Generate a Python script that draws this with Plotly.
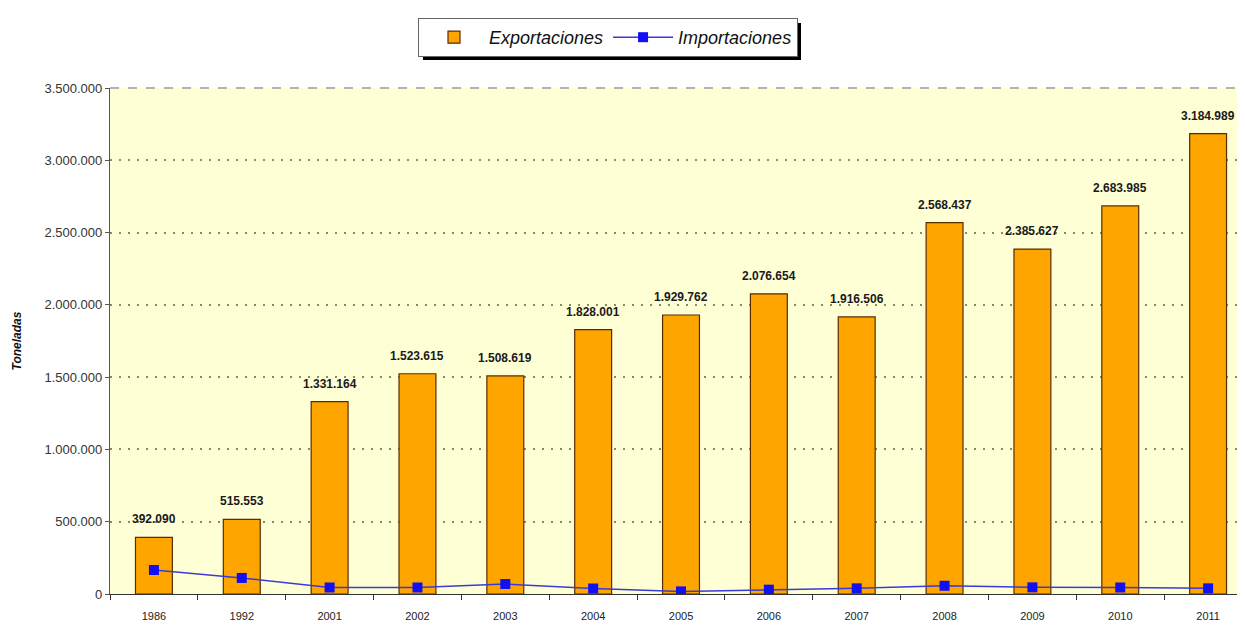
import plotly.graph_objects as go

years = ["1986", "1992", "2001", "2002", "2003", "2004", "2005", "2006", "2007", "2008", "2009", "2010", "2011"]
exportaciones = [392090, 515553, 1331164, 1523615, 1508619, 1828001, 1929762, 2076654, 1916506, 2568437, 2385627, 2683985, 3184989]
importaciones = [166000, 111000, 45000, 45000, 69000, 38000, 18000, 30000, 39000, 57000, 46000, 45000, 39000]
y_ticks = [0, 500000, 1000000, 1500000, 2000000, 2500000, 3000000, 3500000]

FONT = "Liberation Sans, Arial, sans-serif"

# page offset caused by default body margin (8px)
OFF = 8
PL, PT = 110, 88
PW, PH = 1245 - PL, 506  # plot area in page pixels


def px_x(x):
    return (x - PL) / PW


def px_y(y):
    return (PT + PH - y) / PH


fig = go.Figure()
fig.add_trace(go.Bar(
    x=years, y=exportaciones, name="Exportaciones",
    marker=dict(color="#FFA500", line=dict(color="#5a2d00", width=1.2)),
    width=0.42,
))
fig.add_trace(go.Scatter(
    x=years, y=importaciones, name="Importaciones", mode="lines+markers",
    line=dict(color="#3a3ad8", width=1.5),
    marker=dict(symbol="square", size=10, color="#1010f0"),
))

for i, v in enumerate(exportaciones):
    fig.add_annotation(
        x=i, y=v, xref="x", yref="y", text=f"{v:,}".replace(",", "."), showarrow=False,
        yanchor="bottom", yshift=9,
        font=dict(family=FONT, size=12, color="#1a1a1a", weight="bold"),
    )

# plot-area top border (dashed)
fig.add_shape(type="line", xref="paper", yref="paper", x0=0, x1=1, y0=1, y1=1,
              line=dict(color="#9a9a9a", width=1.5, dash="dash"))

# legend shadow
fig.add_shape(type="rect", xref="paper", yref="paper",
              x0=px_x(423), x1=px_x(801),
              y0=px_y(23), y1=px_y(60),
              line=dict(width=0), fillcolor="#000000", layer="above")

fig.update_layout(
    width=1245 - OFF, height=626 - OFF,
    margin=dict(l=PL - OFF, r=0, t=PT - OFF, b=32, autoexpand=False),
    paper_bgcolor="white",
    plot_bgcolor="#FFFFD6",
    separators=",.",
    font=dict(family=FONT, size=11, color="#222"),
    showlegend=True,
    legend=dict(
        orientation="h", x=px_x(418), y=px_y(18),
        xanchor="left", yanchor="top",
        bgcolor="white", bordercolor="#666", borderwidth=1,
        font=dict(family=FONT, size=18, color="#111", style="italic"),
        itemwidth=60,
    ),
    xaxis=dict(
        type="category", range=[-0.5, 12.42],
        showline=True, linecolor="#333", linewidth=1.2,
        ticks="outside", tickson="boundaries", ticklen=5, tickcolor="#333",
        ticklabelstandoff=12,
        tickfont=dict(family=FONT, size=11, color="#222"),
        showgrid=False,
    ),
    yaxis=dict(
        range=[0, 3500000], tickvals=y_ticks, tickformat=",",
        showline=True, linecolor="#555", linewidth=1.2,
        ticks="outside", ticklen=4, tickcolor="#555",
        tickfont=dict(family=FONT, size=13, color="#333"),
        showgrid=True, gridcolor="#8a8a66", griddash="2px,7px", gridwidth=2,
        zeroline=False,
        title=dict(text="Toneladas", standoff=20,
                   font=dict(family=FONT, size=12, color="#111", weight="bold", style="italic")),
    ),
    bargap=0.58,
)

fig.write_html("out.html")
